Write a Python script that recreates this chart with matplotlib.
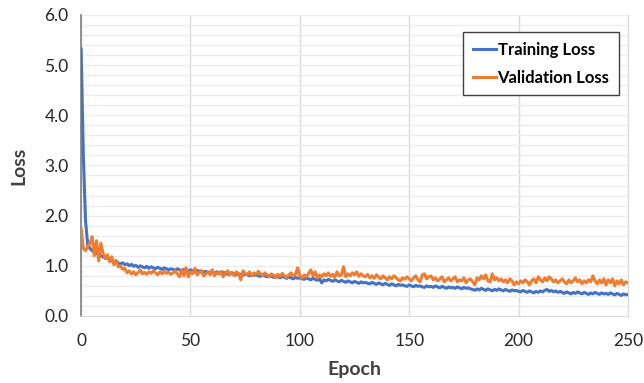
import matplotlib
matplotlib.use("Agg")
import matplotlib.pyplot as plt
import numpy as np

# loss values, one per epoch (0..250)
train_loss = [
    5.32, 3.20, 1.90, 1.42, 1.35, 1.30, 1.28, 1.25, 1.22, 1.20,
    1.18, 1.15, 1.16, 1.12, 1.10, 1.08, 1.10, 1.05, 1.04, 1.06,
    1.02, 1.04, 1.00, 1.03, 0.99, 1.01, 0.97, 1.00, 0.98, 0.96,
    0.99, 0.95, 0.98, 0.96, 0.94, 0.97, 0.95, 0.93, 0.96, 0.94,
    0.92, 0.94, 0.93, 0.91, 0.94, 0.92, 0.90, 0.93, 0.91, 0.89,
    0.92, 0.90, 0.88, 0.91, 0.89, 0.90, 0.87, 0.89, 0.86, 0.88,
    0.87, 0.85, 0.88, 0.86, 0.84, 0.87, 0.85, 0.83, 0.86, 0.84,
    0.85, 0.82, 0.84, 0.83, 0.81, 0.84, 0.82, 0.80, 0.83, 0.81,
    0.82, 0.80, 0.79, 0.82, 0.80, 0.78, 0.81, 0.79, 0.77, 0.80,
    0.78, 0.76, 0.79, 0.77, 0.75, 0.78, 0.76, 0.74, 0.77, 0.75,
    0.76, 0.74, 0.73, 0.76, 0.74, 0.72, 0.75, 0.73, 0.71, 0.74,
    0.66, 0.72, 0.70, 0.73, 0.71, 0.69, 0.72, 0.70, 0.68, 0.71,
    0.69, 0.67, 0.70, 0.68, 0.66, 0.69, 0.67, 0.65, 0.68, 0.66,
    0.67, 0.65, 0.64, 0.67, 0.65, 0.63, 0.66, 0.64, 0.62, 0.65,
    0.63, 0.61, 0.64, 0.62, 0.60, 0.63, 0.61, 0.62, 0.60, 0.59,
    0.62, 0.60, 0.58, 0.61, 0.59, 0.60, 0.58, 0.57, 0.60, 0.58,
    0.59, 0.57, 0.60, 0.58, 0.56, 0.59, 0.57, 0.55, 0.58, 0.56,
    0.57, 0.55, 0.58, 0.56, 0.54, 0.57, 0.55, 0.56, 0.54, 0.53,
    0.51, 0.54, 0.52, 0.55, 0.53, 0.51, 0.54, 0.52, 0.50, 0.53,
    0.51, 0.54, 0.52, 0.50, 0.53, 0.51, 0.49, 0.52, 0.50, 0.51,
    0.49, 0.48, 0.51, 0.49, 0.47, 0.50, 0.48, 0.46, 0.49, 0.47,
    0.50, 0.48, 0.51, 0.53, 0.49, 0.51, 0.48, 0.50, 0.47, 0.49,
    0.47, 0.45, 0.48, 0.46, 0.44, 0.47, 0.45, 0.48, 0.46, 0.44,
    0.47, 0.45, 0.43, 0.46, 0.44, 0.47, 0.45, 0.43, 0.46, 0.44,
    0.45, 0.43, 0.46, 0.44, 0.42, 0.45, 0.43, 0.41, 0.44, 0.42,
    0.43,
]
val_loss = [
    1.74, 1.35, 1.30, 1.38, 1.45, 1.58, 1.20, 1.50, 1.10, 1.45,
    1.25, 1.15, 1.22, 1.08, 1.18, 1.02, 1.10, 0.98, 1.00, 0.93,
    0.95, 0.86, 0.90, 0.84, 0.88, 0.82, 0.86, 0.92, 0.84, 0.87,
    0.83, 0.88, 0.85, 0.90, 0.86, 0.82, 0.88, 0.84, 0.89, 0.85,
    0.87, 0.83, 0.86, 0.90, 0.84, 0.78, 0.92, 0.80, 0.96, 0.78,
    0.88, 0.84, 0.95, 0.82, 0.86, 0.90, 0.80, 0.84, 0.88, 0.82,
    0.92, 0.80, 0.86, 0.84, 0.89, 0.78, 0.85, 0.90, 0.82, 0.87,
    0.80, 0.88, 0.84, 0.72, 0.90, 0.85, 0.82, 0.88, 0.80, 0.86,
    0.83, 0.89, 0.84, 0.80, 0.86, 0.82, 0.78, 0.84, 0.81, 0.76,
    0.83, 0.79, 0.85, 0.80, 0.77, 0.82, 0.86, 0.79, 0.83, 0.96,
    0.80, 0.76, 0.82, 0.78, 0.85, 0.92, 0.80, 0.88, 0.76, 0.82,
    0.78, 0.84, 0.80, 0.86, 0.79, 0.83, 0.77, 0.88, 0.80, 0.82,
    0.98, 0.78, 0.84, 0.80, 0.86, 0.82, 0.88, 0.79, 0.84, 0.80,
    0.78, 0.83, 0.76, 0.80, 0.75, 0.82, 0.78, 0.74, 0.80, 0.76,
    0.72, 0.78, 0.74, 0.80, 0.76, 0.72, 0.70, 0.76, 0.73, 0.78,
    0.74, 0.70, 0.76, 0.80, 0.72, 0.68, 0.82, 0.84, 0.74, 0.78,
    0.80, 0.72, 0.76, 0.70, 0.74, 0.78, 0.68, 0.72, 0.76, 0.70,
    0.74, 0.78, 0.68, 0.72, 0.70, 0.76, 0.66, 0.72, 0.74, 0.68,
    0.62, 0.76, 0.72, 0.80, 0.74, 0.82, 0.70, 0.68, 0.84, 0.72,
    0.76, 0.70, 0.74, 0.68, 0.72, 0.66, 0.74, 0.70, 0.62, 0.68,
    0.64, 0.70, 0.66, 0.72, 0.68, 0.62, 0.70, 0.74, 0.66, 0.78,
    0.72, 0.68, 0.76, 0.70, 0.78, 0.74, 0.68, 0.72, 0.66, 0.70,
    0.74, 0.68, 0.64, 0.72, 0.66, 0.70, 0.76, 0.68, 0.72, 0.64,
    0.70, 0.66, 0.72, 0.68, 0.80, 0.70, 0.64, 0.72, 0.66, 0.74,
    0.62, 0.72, 0.66, 0.74, 0.60, 0.70, 0.64, 0.72, 0.62, 0.68,
    0.66,
]
epochs = np.arange(len(train_loss))

plt.rcParams['font.family'] = ['Lato', 'DejaVu Sans']

fig = plt.figure(figsize=(6.44, 3.83), dpi=100)
ax = fig.add_axes([0.126, 0.175, 0.849, 0.786])

ax.plot(epochs, train_loss, color="#4472C4", lw=2.2, label="Training Loss", zorder=3)
ax.plot(epochs, val_loss, color="#ED7D31", lw=2.2, label="Validation Loss", zorder=4)

ax.set_xlim(0, 250)
ax.set_ylim(0, 6)
ax.set_xticks(np.arange(0, 251, 50))
ax.set_yticks(np.arange(0, 6.1, 1.0))
ax.set_yticks(np.arange(0, 6.01, 0.2), minor=True)
ax.set_yticklabels(["%.1f" % v for v in np.arange(0, 6.1, 1.0)])

ax.grid(True, which="major", axis="x", color="#d9d9d9", lw=1.0)
ax.grid(True, which="both", axis="y", color="#ececec", lw=1.0)
ax.set_axisbelow(True)

ax.tick_params(axis="both", which="both", length=0, labelsize=12.5, colors="#262626")
ax.tick_params(axis="x", pad=12)
ax.tick_params(axis="y", pad=9)

ax.spines["top"].set_visible(False)
ax.spines["right"].set_color("#d9d9d9")
ax.spines["left"].set_color("#7f7f7f")
ax.spines["left"].set_linewidth(1.2)
ax.spines["bottom"].set_color("#d9d9d9")

ax.set_xlabel("Epoch", fontsize=14, fontweight="bold", color="#404040", labelpad=9)
ax.set_ylabel("Loss", fontsize=14, fontweight="bold", color="#404040", labelpad=12)

leg = ax.legend(loc="upper right", bbox_to_anchor=(0.983, 0.942),
                prop={"weight": "bold", "size": 12}, handlelength=1.4,
                handletextpad=0.1, fancybox=False, framealpha=1,
                edgecolor="#404040", borderpad=0.55, labelspacing=0.75,
                borderaxespad=0)
leg.get_frame().set_linewidth(1.0)

fig.savefig("out.png", dpi=100)
